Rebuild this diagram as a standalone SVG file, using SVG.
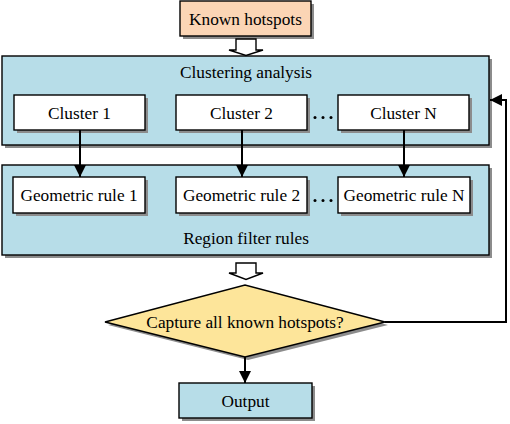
<svg xmlns="http://www.w3.org/2000/svg" width="510" height="424" viewBox="0 0 510 424">
<defs>
<style>
text{font-family:"Liberation Serif","Times New Roman",serif;font-size:17.3px;fill:#000;text-anchor:middle}
.sh{fill:#8c8c8c}
.box{stroke:#000;stroke-width:1.4}
.blue{fill:#b7dde8}
.white{fill:#fff}
.peach{fill:#fbd5b5}
.yel{fill:#fde59a}
.ln{fill:none;stroke:#000;stroke-width:2}
.hollow{fill:#fff;stroke:#000;stroke-width:1.4}
.dots{fill:#000}
</style>
<marker id="ah2" viewBox="0 0 10 10" refX="10" refY="5" markerWidth="12" markerHeight="12" orient="auto" markerUnits="userSpaceOnUse">
<path d="M0,0 L10,5 L0,10 Z" fill="#000"/>
</marker>
</defs>

<g id="known">
<rect class="sh" x="183" y="4" width="131" height="35"/>
<rect class="box peach" x="180" y="1" width="131" height="35"/>
<text x="245.5" y="24.5">Known hotspots</text>
</g>

<g id="clustering">
<rect class="sh" x="5" y="59" width="487" height="89"/>
<rect class="box blue" x="2" y="56" width="487" height="89"/>
<text x="246" y="78">Clustering analysis</text>
</g>

<g id="cluster1">
<rect class="sh" x="17" y="98" width="131" height="35"/>
<rect class="box white" x="14" y="95" width="131" height="35"/>
<text x="79.5" y="118.5">Cluster 1</text>
</g>
<g id="cluster2">
<rect class="sh" x="179" y="98" width="131" height="35"/>
<rect class="box white" x="176" y="95" width="131" height="35"/>
<text x="241.5" y="118.5">Cluster 2</text>
</g>
<g id="dots1">
<circle class="dots" cx="315" cy="117.5" r="1.5"/>
<circle class="dots" cx="323" cy="117.5" r="1.5"/>
<circle class="dots" cx="331" cy="117.5" r="1.5"/>
</g>
<g id="clusterN">
<rect class="sh" x="341" y="98" width="131" height="35"/>
<rect class="box white" x="338" y="95" width="131" height="35"/>
<text x="403.5" y="118.5">Cluster N</text>
</g>

<g id="region">
<rect class="sh" x="5" y="168" width="487" height="90"/>
<rect class="box blue" x="2" y="165" width="487" height="90"/>
<text x="246" y="244">Region filter rules</text>
</g>

<g id="rule1">
<rect class="sh" x="16" y="180" width="132" height="36"/>
<rect class="box white" x="13" y="177" width="132" height="36"/>
<text x="79" y="201">Geometric rule 1</text>
</g>
<g id="rule2">
<rect class="sh" x="179" y="180" width="131" height="36"/>
<rect class="box white" x="176" y="177" width="131" height="36"/>
<text x="241.5" y="201">Geometric rule 2</text>
</g>
<g id="dots2">
<circle class="dots" cx="315" cy="200.5" r="1.5"/>
<circle class="dots" cx="323" cy="200.5" r="1.5"/>
<circle class="dots" cx="331" cy="200.5" r="1.5"/>
</g>
<g id="ruleN">
<rect class="sh" x="341" y="180" width="132" height="36"/>
<rect class="box white" x="338" y="177" width="132" height="36"/>
<text x="404" y="201">Geometric rule N</text>
</g>

<g id="decision">
<polygon class="sh" points="108,325 248,288 388,325 248,360"/>
<polygon class="box yel" points="105,322 245,285 385,322 245,357"/>
<text x="245" y="328">Capture all known hotspots?</text>
</g>

<g id="output">
<rect class="sh" x="182" y="386" width="133" height="35"/>
<rect class="box blue" x="179" y="383" width="133" height="35"/>
<text x="245.5" y="406.5">Output</text>
</g>

<g id="connectors">
<polygon class="hollow" points="236,39 256,39 256,50 263,50 246,55.5 229,50 236,50"/>
<polygon class="hollow" points="236,263 256,263 256,273 263,273 246,279.5 229,273 236,273"/>
<line class="ln" x1="80" y1="130" x2="80" y2="177" marker-end="url(#ah2)"/>
<line class="ln" x1="242" y1="130" x2="242" y2="177" marker-end="url(#ah2)"/>
<line class="ln" x1="404" y1="130" x2="404" y2="177" marker-end="url(#ah2)"/>
<line class="ln" x1="245" y1="357" x2="245" y2="383" marker-end="url(#ah2)"/>
<polyline class="ln" points="385,322 506,322 506,100 490,100" marker-end="url(#ah2)"/>
</g>
</svg>
